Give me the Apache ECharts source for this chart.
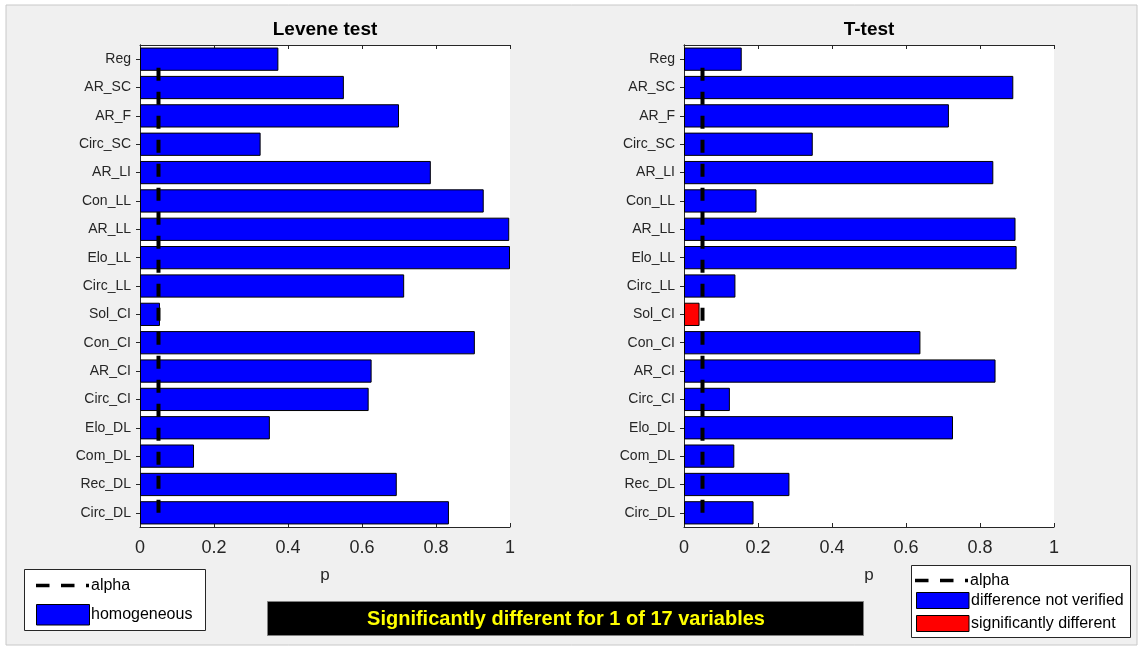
<!DOCTYPE html>
<html>
<head>
<meta charset="utf-8">
<script src="https://cdn.jsdelivr.net/npm/echarts@6/dist/echarts.min.js"></script>
<style>
  html, body { margin: 0; padding: 0; background: #ffffff; }
  #chart { width: 1143px; height: 650px; }
</style>
</head>
<body>
<div id="chart"></div>
<script>
// Categories, bottom to top (as in MATLAB barh)
const categories = ['Circ_DL','Rec_DL','Com_DL','Elo_DL','Circ_CI','AR_CI','Con_CI','Sol_CI','Circ_LL','Elo_LL','AR_LL','Con_LL','AR_LI','Circ_SC','AR_F','AR_SC','Reg'];
const leveneP = [0.835, 0.694, 0.146, 0.351, 0.618, 0.626, 0.905, 0.054, 0.714, 1.000, 0.998, 0.929, 0.786, 0.326, 0.700, 0.551, 0.374];
const ttestP  = [0.188, 0.285, 0.136, 0.727, 0.124, 0.842, 0.639, 0.042, 0.139, 0.899, 0.896, 0.196, 0.836, 0.348, 0.716, 0.890, 0.156];
const alpha = 0.05;
const xTicks = [0, 0.2, 0.4, 0.6, 0.8, 1];
const titles = ['Levene test', 'T-test'];
const xLabel = 'p';
const leftLegend = ['alpha', 'homogeneous'];
const rightLegend = ['alpha', 'difference not verified', 'significantly different'];
const bannerText = 'Significantly different for 1 of 17 variables';

const FONT = '"Liberation Sans", Arial, Helvetica, sans-serif';
const AX = '#262626';
const grids = [
  { left: 140, top: 45, width: 370, height: 482 },
  { left: 684, top: 45, width: 370, height: 482 }
];

const chart = echarts.init(document.getElementById('chart'), null, { renderer: 'canvas' });

const xAxes = [], yAxes = [], series = [];
[0, 1].forEach(g => {
  // bottom x axis
  xAxes.push({
    type: 'value', gridIndex: g, position: 'bottom',
    min: xTicks[0], max: xTicks[xTicks.length - 1], interval: 0.2,
    name: xLabel, nameLocation: 'middle', nameGap: 40,
    nameTextStyle: { fontFamily: FONT, fontSize: 17, color: AX },
    axisLine: { show: true, lineStyle: { color: AX, width: 1 } },
    axisTick: { show: true, inside: true, length: 4, lineStyle: { color: AX } },
    axisLabel: { fontFamily: FONT, fontSize: 18, color: AX, margin: 12 },
    splitLine: { show: false }
  });
  // top x axis (box + ticks only)
  xAxes.push({
    type: 'value', gridIndex: g, position: 'top',
    min: xTicks[0], max: xTicks[xTicks.length - 1], interval: 0.2,
    axisLine: { show: true, lineStyle: { color: AX, width: 1 } },
    axisTick: { show: true, inside: true, length: 4, lineStyle: { color: AX } },
    axisLabel: { show: false }, splitLine: { show: false }
  });
  // left y axis
  yAxes.push({
    type: 'category', gridIndex: g, position: 'left', data: categories,
    axisLine: { show: true, lineStyle: { color: AX, width: 1 } },
    axisTick: { show: true, inside: true, length: 4, alignWithLabel: true, lineStyle: { color: AX } },
    axisLabel: { fontFamily: FONT, fontSize: 14, color: AX, margin: 9 },
    splitLine: { show: false }
  });
  // right y axis
  yAxes.push({
    type: 'category', gridIndex: g, position: 'right', data: categories,
    axisLine: { show: true, lineStyle: { color: AX, width: 1 } },
    axisTick: { show: true, inside: true, length: 4, alignWithLabel: true, lineStyle: { color: AX } },
    axisLabel: { show: false }, splitLine: { show: false }
  });
});

series.push({
  type: 'bar', xAxisIndex: 0, yAxisIndex: 0, data: leveneP,
  barWidth: '82%',
  itemStyle: { color: '#0000ff', borderColor: '#000000', borderWidth: 1 },
  z: 2, silent: true
});
series.push({
  type: 'bar', xAxisIndex: 2, yAxisIndex: 2,
  data: ttestP.map(v => ({ value: v, itemStyle: { color: v < alpha ? '#ff0000' : '#0000ff' } })),
  barWidth: '82%',
  itemStyle: { borderColor: '#000000', borderWidth: 1 },
  z: 2, silent: true
});
[0, 2].forEach(ax => {
  series.push({
    type: 'line', xAxisIndex: ax, yAxisIndex: ax,
    data: categories.map(() => alpha),
    symbol: 'none', silent: true, z: 5,
    lineStyle: { color: '#000000', width: 4, type: [13, 11], dashOffset: 0, cap: 'butt' }
  });
});

const legendText = { fontFamily: FONT, fontSize: 16, fill: '#000000' };
function dashLine(x, y) {
  return { type: 'line', shape: { x1: x, y1: y, x2: x + 53, y2: y },
    style: { stroke: '#000', lineWidth: 3.5, lineDash: [13.5, 11.5] } };
}

const graphic = [
  // window frame
  { type: 'rect', shape: { x: 6, y: 5, width: 1131, height: 640 },
    style: { fill: '#f0f0f0', stroke: '#c8c8c8', lineWidth: 1 }, z: -10 },
  // plot backgrounds
  { type: 'rect', shape: { x: 140, y: 45, width: 370, height: 482 }, style: { fill: '#ffffff' }, z: -5 },
  { type: 'rect', shape: { x: 684, y: 45, width: 370, height: 482 }, style: { fill: '#ffffff' }, z: -5 },
  // titles
  { type: 'text', x: 325, y: 30, style: { text: titles[0], font: 'bold 19px ' + FONT, fill: '#000', align: 'center', verticalAlign: 'middle' } },
  { type: 'text', x: 869, y: 30, style: { text: titles[1], font: 'bold 19px ' + FONT, fill: '#000', align: 'center', verticalAlign: 'middle' } },
  // left legend
  { type: 'rect', shape: { x: 24.5, y: 569.5, width: 181, height: 61 }, style: { fill: '#ffffff', stroke: '#262626', lineWidth: 1 } },
  dashLine(36, 585.5),
  { type: 'text', x: 91, y: 586, style: Object.assign({ text: leftLegend[0], verticalAlign: 'middle' }, legendText) },
  { type: 'rect', shape: { x: 36.5, y: 604.5, width: 53, height: 20.5 }, style: { fill: '#0000ff', stroke: '#000', lineWidth: 1 } },
  { type: 'text', x: 91, y: 615, style: Object.assign({ text: leftLegend[1], verticalAlign: 'middle' }, legendText) },
  // right legend
  { type: 'rect', shape: { x: 911.5, y: 565.5, width: 219, height: 72 }, style: { fill: '#ffffff', stroke: '#262626', lineWidth: 1 } },
  dashLine(915, 580.5),
  { type: 'text', x: 970, y: 580.5, style: Object.assign({ text: rightLegend[0], verticalAlign: 'middle' }, legendText) },
  { type: 'rect', shape: { x: 916.5, y: 592.5, width: 52.5, height: 16 }, style: { fill: '#0000ff', stroke: '#000', lineWidth: 1 } },
  { type: 'text', x: 971, y: 601, style: Object.assign({ text: rightLegend[1], verticalAlign: 'middle' }, legendText) },
  { type: 'rect', shape: { x: 916.5, y: 615.5, width: 52.5, height: 16 }, style: { fill: '#ff0000', stroke: '#000', lineWidth: 1 } },
  { type: 'text', x: 971, y: 623.5, style: Object.assign({ text: rightLegend[2], verticalAlign: 'middle' }, legendText) },
  // banner
  { type: 'rect', shape: { x: 267.5, y: 601.5, width: 596, height: 34 }, style: { fill: '#000000', stroke: '#808080', lineWidth: 1 } },
  { type: 'text', x: 566, y: 619, style: { text: bannerText, font: 'bold 20px ' + FONT, fill: '#ffff00', align: 'center', verticalAlign: 'middle' } }
];

chart.setOption({
  backgroundColor: '#ffffff',
  animation: false,
  grid: grids,
  xAxis: xAxes,
  yAxis: yAxes,
  series: series,
  graphic: graphic
});
</script>
</body>
</html>
